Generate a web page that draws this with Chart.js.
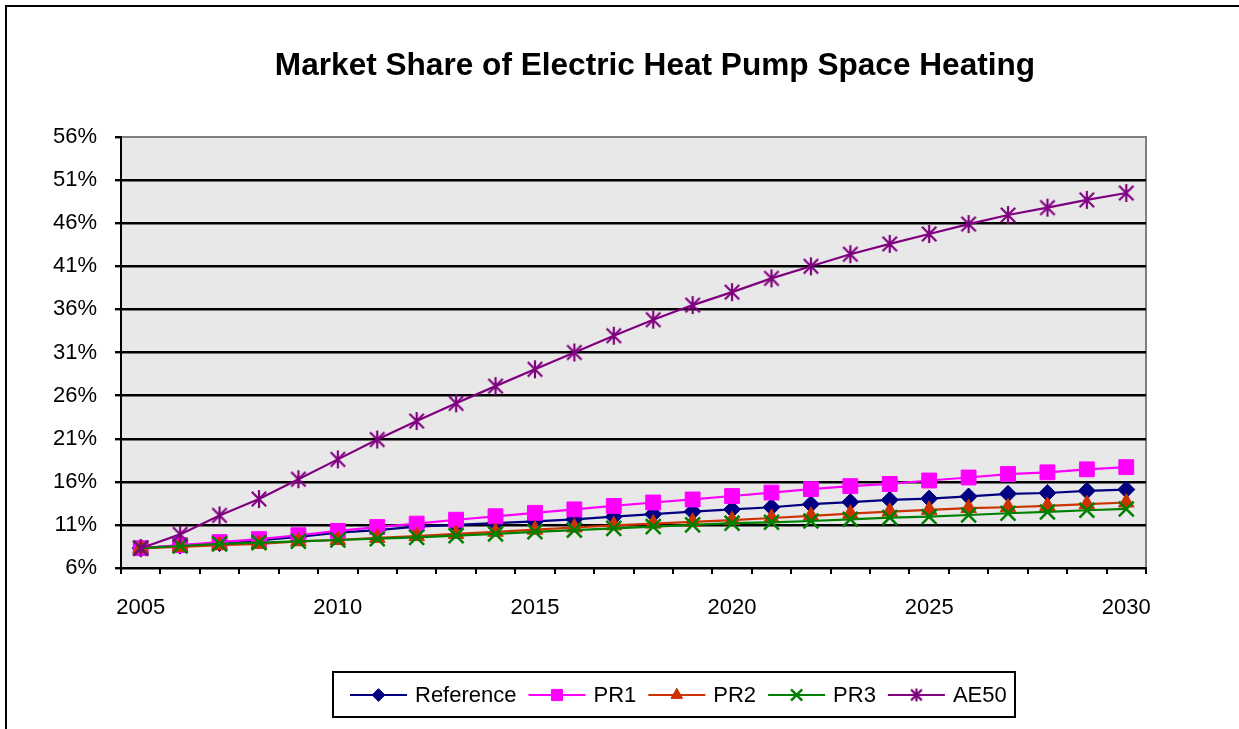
<!DOCTYPE html>
<html>
<head>
<meta charset="utf-8">
<script src="https://cdn.jsdelivr.net/npm/chart.js@4/dist/chart.umd.min.js"></script>
<style>
  body { margin: 0; background: #ffffff; }
</style>
</head>
<body>
<canvas id="myChart" width="1239" height="729"></canvas>
<script>
var years = [2005, 2006, 2007, 2008, 2009, 2010, 2011, 2012, 2013, 2014, 2015, 2016, 2017,
             2018, 2019, 2020, 2021, 2022, 2023, 2024, 2025, 2026, 2027, 2028, 2029, 2030];
var tickYears = [2005, 2010, 2015, 2020, 2025, 2030];

// market share in %
var reference = [8.3, 8.6, 8.9, 9.2, 9.6, 10.1, 10.4, 10.8, 11.0, 11.2, 11.4, 11.65, 11.95,
                 12.25, 12.55, 12.8, 13.05, 13.4, 13.65, 13.9, 14.05, 14.3, 14.6, 14.7, 14.95, 15.1];
var pr1 = [8.3, 8.65, 9.0, 9.35, 9.8, 10.3, 10.75, 11.15, 11.6, 12.0, 12.4, 12.8, 13.2,
           13.6, 13.95, 14.35, 14.75, 15.15, 15.5, 15.75, 16.15, 16.5, 16.9, 17.1, 17.45, 17.7];
var pr2 = [8.3, 8.45, 8.65, 8.8, 9.1, 9.25, 9.5, 9.7, 9.95, 10.2, 10.45, 10.7, 10.95,
           11.15, 11.35, 11.55, 11.8, 12.05, 12.3, 12.55, 12.75, 12.95, 13.05, 13.2, 13.4, 13.6];
var pr3 = [8.3, 8.55, 8.8, 8.95, 9.1, 9.25, 9.4, 9.55, 9.75, 9.95, 10.2, 10.4, 10.6,
           10.8, 11.0, 11.2, 11.3, 11.45, 11.65, 11.85, 11.95, 12.15, 12.35, 12.5, 12.7, 12.85];
var ae50 = [8.3, 9.9, 12.1, 14.0, 16.3, 18.6, 20.9, 23.05, 25.1, 27.1, 29.05, 31.0, 32.95,
            34.8, 36.5, 38.0, 39.6, 41.0, 42.4, 43.6, 44.75, 45.9, 46.95, 47.8, 48.7, 49.5];

var seriesNames = ['Reference', 'PR1', 'PR2', 'PR3', 'AE50'];
var yTicks = { min: 6, max: 56, step: 5 };

var FONT = "'Liberation Sans', Arial, sans-serif";

// asterisk marker (vertical bar + X) like the Excel one
function makeAsterisk(color, size) {
    var c = document.createElement('canvas');
    c.width = size; c.height = size;
    var g = c.getContext('2d');
    var m = size / 2, d = size * 0.36;
    g.strokeStyle = color;
    g.lineWidth = 2.2;
    g.beginPath();
    g.moveTo(m, 1); g.lineTo(m, size - 1);
    g.moveTo(m - d, m - d); g.lineTo(m + d, m + d);
    g.moveTo(m + d, m - d); g.lineTo(m - d, m + d);
    g.stroke();
    return c;
}

function series(label, data, color, style, radius, order) {
    return {
        label: label,
        data: data,
        borderColor: color,
        backgroundColor: color,
        pointBorderColor: color,
        pointBackgroundColor: color,
        borderWidth: 2.2,
        pointStyle: style,
        pointRadius: radius,
        pointBorderWidth: (style == 'crossRot') ? 2.5 : 1,
        tension: 0,
        order: order
    };
}

var datasets = [
    series(seriesNames[0], reference, '#000080', 'rectRot', 8.5, 5),
    series(seriesNames[1], pr1, '#FF00FF', 'rect', 10.5, 4),
    series(seriesNames[2], pr2, '#CC3300', 'triangle', 9, 3),
    series(seriesNames[3], pr3, '#008000', 'crossRot', 10.5, 2),
    series(seriesNames[4], ae50, '#800080', makeAsterisk('#800080', 20), 10, 1)
];
var legendMarks = [null, null, null, null, makeAsterisk('#800080', 15)];

var frame = {
    id: 'frame',
    beforeDraw: function (chart) {
        var ctx = chart.ctx, a = chart.chartArea;
        ctx.save();
        ctx.fillStyle = '#ffffff';
        ctx.fillRect(0, 0, chart.width, chart.height);
        ctx.strokeStyle = '#000000';
        ctx.lineWidth = 2;
        ctx.strokeRect(6, 6, 1400, 900);
        ctx.fillStyle = '#E8E8E8';
        ctx.fillRect(a.left, a.top, a.right - a.left, a.bottom - a.top);
        ctx.strokeStyle = '#808080';
        ctx.lineWidth = 2;
        ctx.beginPath();
        ctx.moveTo(a.left, a.top);
        ctx.lineTo(a.right, a.top);
        ctx.lineTo(a.right, a.bottom);
        ctx.stroke();
        // title
        ctx.fillStyle = '#000000';
        ctx.font = 'bold 31.6px ' + FONT;
        ctx.textAlign = 'center';
        ctx.textBaseline = 'alphabetic';
        ctx.fillText('Market Share of Electric Heat Pump Space Heating', 655, 75);
        ctx.restore();
    },
    afterDraw: function (chart) {
        var ctx = chart.ctx;
        ctx.save();
        ctx.strokeStyle = '#000000';
        ctx.lineWidth = 2;
        ctx.strokeRect(333, 672, 682, 45);
        ctx.font = '22px ' + FONT;
        ctx.textBaseline = 'middle';
        ctx.textAlign = 'left';
        var x = 350, y = 695;
        datasets.forEach(function (ds, i) {
            ctx.strokeStyle = ds.borderColor;
            ctx.lineWidth = 2;
            ctx.beginPath();
            ctx.moveTo(x, y);
            ctx.lineTo(x + 57, y);
            ctx.stroke();
            ctx.fillStyle = ds.pointBackgroundColor;
            ctx.strokeStyle = ds.pointBorderColor;
            ctx.lineWidth = ds.pointBorderWidth;
            Chart.helpers.drawPoint(ctx, {
                pointStyle: legendMarks[i] || ds.pointStyle,
                radius: ds.pointRadius * 0.75,
                borderWidth: ds.pointBorderWidth,
                rotation: 0
            }, x + 28.5, y);
            ctx.fillStyle = '#000000';
            ctx.fillText(ds.label, x + 65, y + 1);
            x += 65 + ctx.measureText(ds.label).width + 12;
        });
        ctx.restore();
    }
};

var ctx = document.getElementById('myChart').getContext('2d');
var chart = new Chart(ctx, {
    type: 'line',
    data: {
        labels: years,
        datasets: datasets
    },
    options: {
        responsive: false,
        animation: false,
        layout: {
            padding: { left: 0, right: 93, top: 137, bottom: 111 }
        },
        plugins: {
            legend: { display: false },
            title: { display: false },
            tooltip: { enabled: false }
        },
        scales: {
            x: {
                offset: true,
                grid: {
                    offset: true,
                    drawOnChartArea: false,
                    color: '#000000',
                    lineWidth: 2,
                    tickLength: 6
                },
                border: { color: '#000000', width: 2 },
                ticks: {
                    autoSkip: false,
                    maxRotation: 0,
                    padding: 21,
                    color: '#000000',
                    font: { family: FONT, size: 22 },
                    callback: function (v, i) {
                        return tickYears.indexOf(years[i]) >= 0 ? String(years[i]) : '';
                    }
                },
                afterFit: function (s) { s.height = 50; }
            },
            y: {
                min: yTicks.min,
                max: yTicks.max,
                grid: {
                    color: function (c) {
                        return c.tick && c.tick.value == yTicks.max ? 'rgba(0,0,0,0)' : '#000000';
                    },
                    lineWidth: 2.4,
                    tickLength: 6,
                    tickColor: '#000000'
                },
                border: { color: '#000000', width: 2 },
                ticks: {
                    stepSize: yTicks.step,
                    padding: 18,
                    color: '#000000',
                    font: { family: FONT, size: 22 },
                    callback: function (v) { return v + '%'; }
                },
                afterFit: function (s) { s.width = 121; }
            }
        }
    },
    plugins: [frame]
});
</script>
</body>
</html>
